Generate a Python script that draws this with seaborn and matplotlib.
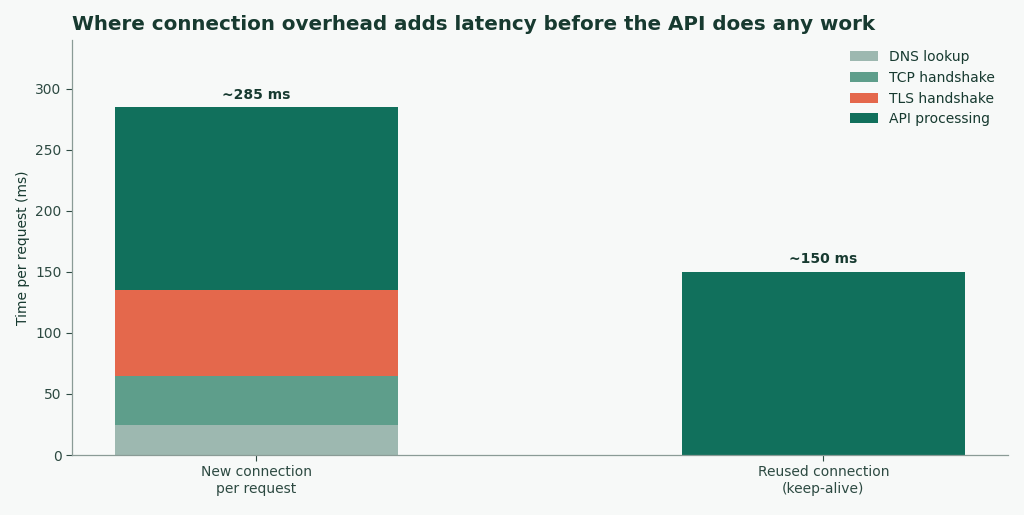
import matplotlib
matplotlib.use("Agg")
import matplotlib.pyplot as plt
from matplotlib.patches import Patch
import seaborn as sns
import numpy as np

categories = ["New connection\nper request", "Reused connection\n(keep-alive)"]
layers = ["DNS lookup", "TCP handshake", "TLS handshake", "API processing"]
dns = [25, 0]
tcp = [40, 0]
tls = [70, 0]
api = [150, 150]
totals_labels = ["~285 ms", "~150 ms"]
colors = ["#9db8b0", "#5e9e8b", "#e4684c", "#11705c"]

bg = "#f7f9f8"
text_dark = "#173a30"
tick_col = "#2d4a42"
spine_col = "#8a9b96"

sns.set_theme(style="white")
plt.rcParams["font.family"] = ["DejaVu Sans"]

fig = plt.figure(figsize=(10.24, 5.15), dpi=100, facecolor=bg)
ax = fig.add_axes([0.0703, 0.1165, 0.9137, 0.8055])
ax.set_facecolor(bg)

series = [dns, tcp, tls, api]
bottom = np.zeros(len(categories))
for vals, col in zip(series, colors):
    sns.barplot(x=categories, y=vals, bottom=bottom, color=col, width=0.5,
                linewidth=0, saturation=1, ax=ax)
    bottom = bottom + np.array(vals)

for i, (tot, lab) in enumerate(zip(bottom, totals_labels)):
    ax.annotate(lab, xy=(i, tot), xytext=(0, 4), textcoords="offset points",
                ha="center", va="bottom", fontsize=10, fontweight="bold",
                color=text_dark)

ax.set_xlim(-0.325, 1.325)
ax.set_ylim(0, 340)
ax.set_yticks([0, 50, 100, 150, 200, 250, 300])
ax.set_ylabel("Time per request (ms)", fontsize=10, color=text_dark)
ax.set_xlabel("")
ax.tick_params(axis="both", labelsize=10, colors=tick_col, length=4, width=0.8,
               left=True, bottom=True)
for lbl in ax.get_xticklabels() + ax.get_yticklabels():
    lbl.set_color(tick_col)

sns.despine(ax=ax)
for s in ["left", "bottom"]:
    ax.spines[s].set_color(spine_col)
    ax.spines[s].set_linewidth(0.9)

handles = [Patch(facecolor=c, edgecolor="none", label=l) for c, l in zip(colors, layers)]
leg = ax.legend(handles=handles, loc="upper right", frameon=False, fontsize=10,
                handlelength=2.0, handleheight=0.7, labelspacing=0.48,
                bbox_to_anchor=(1.0, 1.006))
for t in leg.get_texts():
    t.set_color(text_dark)

fig.text(0.0703, 0.953, "Where connection overhead adds latency before the API does any work",
         fontsize=14.35, fontweight="bold", color=text_dark, ha="left", va="center")

fig.savefig("out.png", dpi=100, facecolor=bg)
